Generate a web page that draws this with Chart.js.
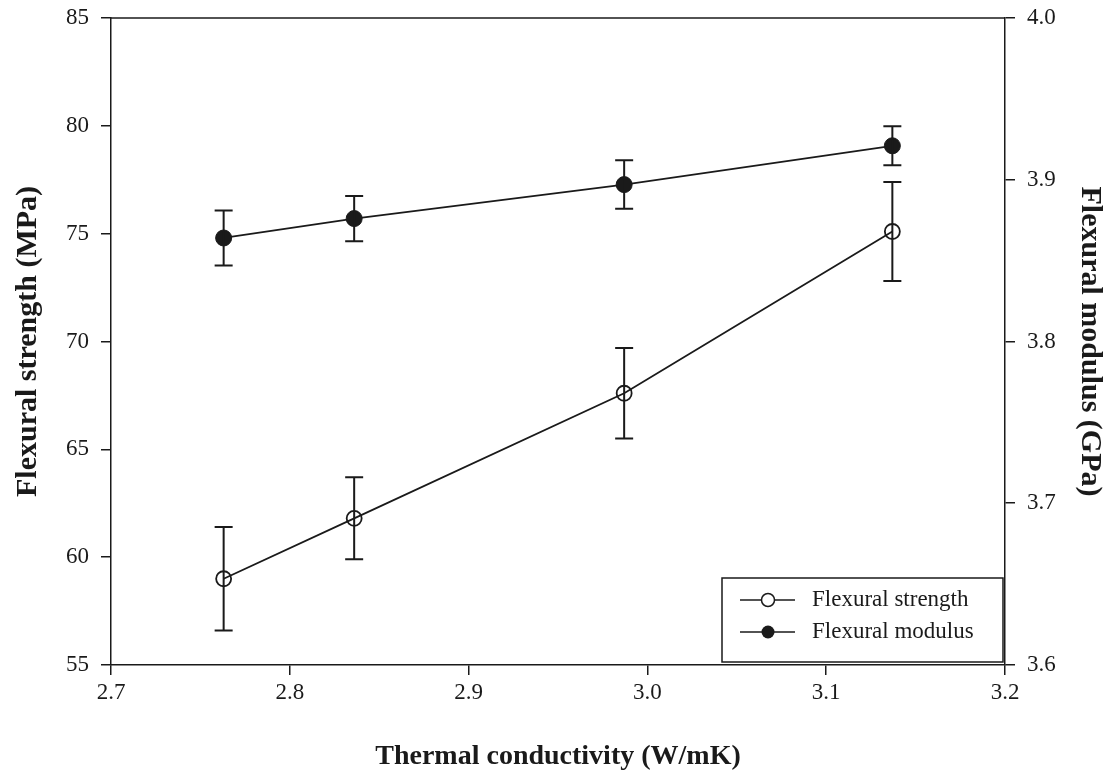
<!DOCTYPE html>
<html>
<head>
<meta charset="utf-8">
<script src="https://cdn.jsdelivr.net/npm/chart.js@4.4.1/dist/chart.umd.min.js"></script>
<style>
  html, body { margin: 0; padding: 0; background: #fff; }
  #wrap { width: 1111px; height: 776px; position: relative; }
</style>
</head>
<body>
<div id="wrap"><canvas id="c" width="1111" height="776"></canvas></div>
<script>
// ---- data ----
const conductivity = [2.763, 2.836, 2.987, 3.137];          // W/mK
const strength     = [59.0, 61.8, 67.6, 75.1];              // MPa
const strengthErr  = [2.4, 1.9, 2.1, 2.3];
const modulus      = [3.864, 3.876, 3.897, 3.921];          // GPa
const modulusErr   = [0.017, 0.014, 0.015, 0.012];
const seriesLabels = ['Flexural strength', 'Flexural modulus'];
const xTitle  = 'Thermal conductivity (W/mK)';
const yTitle  = 'Flexural strength (MPa)';
const y2Title = 'Flexural modulus (GPa)';

const INK = '#1a1a1a';
const SERIF = "'Liberation Serif', 'DejaVu Serif', serif";

const errorBars = {
  id: 'errorBars',
  afterDatasetsDraw(chart) {
    const ctx = chart.ctx;
    chart.data.datasets.forEach((ds, i) => {
      const meta = chart.getDatasetMeta(i);
      const ys = chart.scales[meta.yAxisID];
      const errs = ds.errors;
      ctx.save();
      ctx.strokeStyle = INK;
      ctx.lineWidth = 2;
      meta.data.forEach((pt, j) => {
        const v = ds.data[j].y;
        const top = ys.getPixelForValue(v + errs[j]);
        const bot = ys.getPixelForValue(v - errs[j]);
        const x = pt.x, cap = 9;
        ctx.beginPath();
        ctx.moveTo(x, top); ctx.lineTo(x, bot);
        ctx.moveTo(x - cap, top); ctx.lineTo(x + cap, top);
        ctx.moveTo(x - cap, bot); ctx.lineTo(x + cap, bot);
        ctx.stroke();
      });
      ctx.restore();
    });
  }
};

const frameAndLegend = {
  id: 'frameAndLegend',
  afterDraw(chart) {
    const ctx = chart.ctx;
    const a = chart.chartArea;
    ctx.save();
    ctx.strokeStyle = INK;
    ctx.lineWidth = 1.5;
    ctx.beginPath();
    ctx.moveTo(a.left, a.top); ctx.lineTo(a.right, a.top);
    ctx.stroke();

    // legend box (bottom-right inside plot)
    const bx = 722, by = 578, bw = a.right - 722 - 2, bh = a.bottom - 578 - 3;
    ctx.fillStyle = '#fff';
    ctx.fillRect(bx, by, bw, bh);
    ctx.lineWidth = 1.5;
    ctx.strokeRect(bx, by, bw, bh);
    const rows = [600, 632];
    chart.data.datasets.forEach((ds, i) => {
      const y = rows[i];
      ctx.strokeStyle = INK;
      ctx.lineWidth = 1.5;
      ctx.beginPath(); ctx.moveTo(740, y); ctx.lineTo(795, y); ctx.stroke();
      ctx.beginPath(); ctx.arc(768, y, 6.5, 0, Math.PI * 2);
      if (i === 0) { ctx.fillStyle = '#fff'; ctx.fill(); ctx.stroke(); }
      else { ctx.fillStyle = INK; ctx.fill(); }
      ctx.fillStyle = INK;
      ctx.font = "23px " + SERIF;
      ctx.textBaseline = 'middle';
      ctx.textAlign = 'left';
      ctx.fillText(ds.label, 812, y);
    });
    ctx.restore();
  }
};

const axisGrid = {
  display: true, drawOnChartArea: false, drawTicks: true,
  tickLength: 10, color: INK, lineWidth: 1.5
};
const axisBorder = { display: true, color: INK, width: 1.5 };
const tickFont = { family: SERIF, size: 23 };
const xTitleFont = { family: SERIF, size: 28, weight: 'bold', lineHeight: 1.2 };
const yTitleFont = { family: SERIF, size: 30, weight: 'bold', lineHeight: 1.2 };

function fitY(width) {
  return function (s) { s.width = width; s.paddingTop = 0; s.paddingBottom = 0; };
}

new Chart(document.getElementById('c'), {
  type: 'line',
  data: {
    datasets: [
      {
        label: seriesLabels[0],
        data: conductivity.map((x, i) => ({ x, y: strength[i] })),
        errors: strengthErr,
        yAxisID: 'y',
        borderColor: INK, borderWidth: 1.8,
        pointRadius: 7.5, pointHoverRadius: 7.5,
        pointBackgroundColor: 'rgba(0,0,0,0)', pointBorderColor: INK, pointBorderWidth: 1.8,
        tension: 0
      },
      {
        label: seriesLabels[1],
        data: conductivity.map((x, i) => ({ x, y: modulus[i] })),
        errors: modulusErr,
        yAxisID: 'y2',
        borderColor: INK, borderWidth: 1.8,
        pointRadius: 8, pointHoverRadius: 8,
        pointBackgroundColor: INK, pointBorderColor: INK, pointBorderWidth: 1,
        tension: 0
      }
    ]
  },
  options: {
    responsive: false,
    animation: false,
    devicePixelRatio: 1,
    layout: { padding: { top: 18, left: 0, right: 0, bottom: 0 } },
    plugins: { legend: { display: false }, tooltip: { enabled: false } },
    scales: {
      x: {
        type: 'linear', position: 'bottom', min: 2.7, max: 3.2,
        afterFit(s) { s.height = 111; s.paddingLeft = 0; s.paddingRight = 0; },
        ticks: { stepSize: 0.1, color: INK, font: tickFont, padding: 4, maxRotation: 0,
                 callback: v => Number(v).toFixed(1) },
        grid: axisGrid, border: axisBorder,
        title: { display: true, text: xTitle, color: INK, font: xTitleFont, padding: { top: 4, bottom: 2 } }
      },
      y: {
        type: 'linear', position: 'left', min: 55, max: 85,
        afterFit: fitY(111),
        ticks: { stepSize: 5, color: INK, font: tickFont, padding: 12 },
        grid: axisGrid, border: axisBorder,
        title: { display: true, text: yTitle, color: INK, font: yTitleFont, padding: { top: 10, bottom: 4 } }
      },
      y2: {
        type: 'linear', position: 'right', min: 3.6, max: 4.0,
        afterFit: fitY(106),
        ticks: { stepSize: 0.1, color: INK, font: tickFont, padding: 12,
                 callback: v => Number(v).toFixed(1) },
        grid: axisGrid, border: axisBorder,
        title: { display: true, text: y2Title, color: INK, font: yTitleFont, padding: { top: 3, bottom: 4 } }
      }
    }
  },
  plugins: [errorBars, frameAndLegend]
});
</script>
</body>
</html>
